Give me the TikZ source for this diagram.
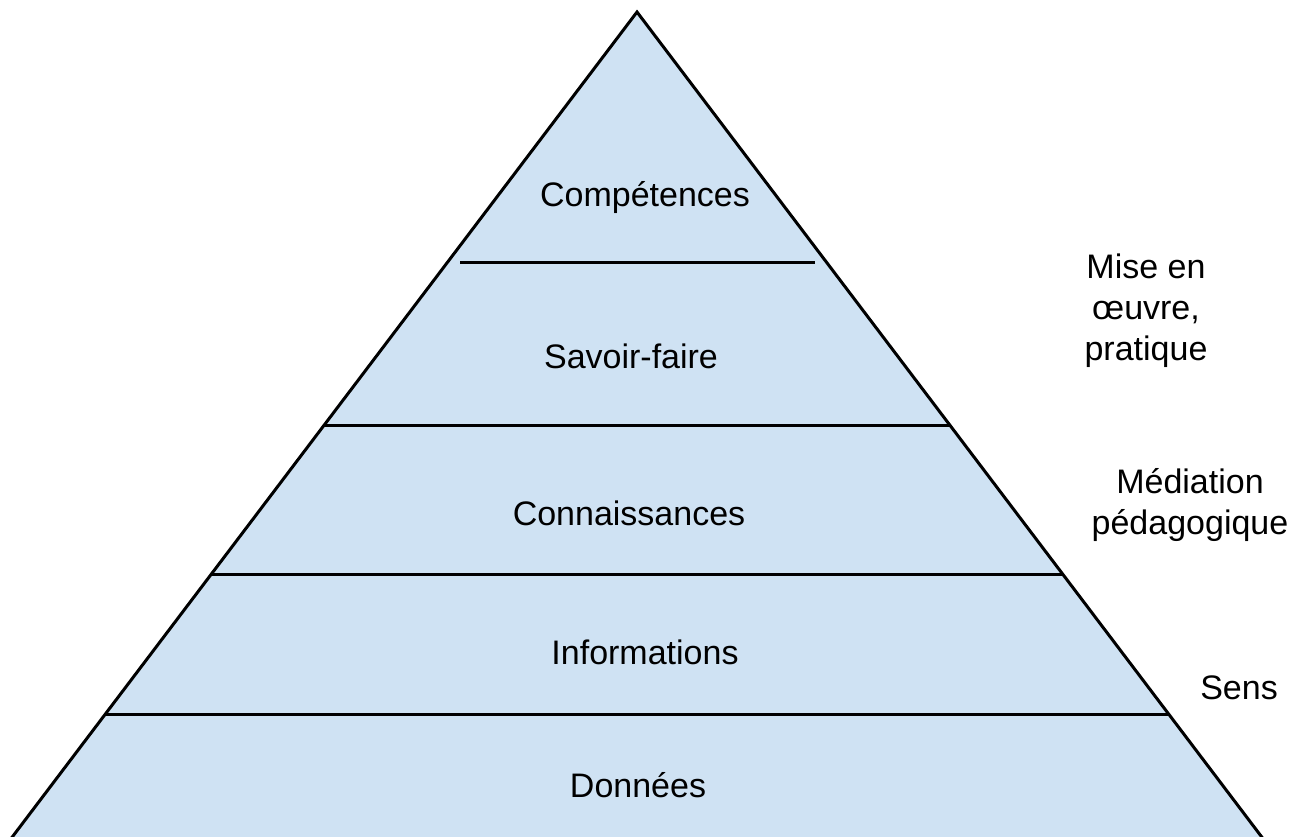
\documentclass[tikz,border=0pt]{standalone}
\usepackage{fontspec}
\setmainfont{Liberation Sans}
\definecolor{pyrfill}{HTML}{CFE2F3}
\begin{document}
\begin{tikzpicture}[x=1pt,y=-1pt,
  edge/.style={line width=3pt,draw=black},
  lvl/.style={font=\fontsize{34}{41}\selectfont,inner sep=0pt,anchor=center},
  side/.style={font=\fontsize{34}{41}\selectfont,inner sep=0pt,align=center,anchor=center}]
\useasboundingbox (0,0) rectangle (1293,836);
\coordinate (apex) at (637,12);
\fill[pyrfill] (apex) -- (1271,850) -- (3,850) -- cycle;
\draw[edge,line join=miter] (3,849.2) -- (apex) -- (1271,849.2);
\coordinate (c1a) at (460,262); \coordinate (c1b) at (815,262);
\coordinate (c2a) at (324,425); \coordinate (c2b) at (950,425);
\coordinate (c3a) at (212,574); \coordinate (c3b) at (1062,574);
\coordinate (c4a) at (106,714); \coordinate (c4b) at (1168,714);
\draw[edge] (c1a) -- (c1b);
\draw[edge] (c2a) -- (c2b);
\draw[edge] (c3a) -- (c3b);
\draw[edge] (c4a) -- (c4b);
\node[lvl] (comp) at (645,198) {Compétences};
\node[lvl] (sf) at (631,356) {Savoir-faire};
\node[lvl] (conn) at (629,513) {Connaissances};
\node[lvl] (info) at (645,652) {Informations};
\node[lvl] (don) at (638,785) {Données};
\node[side] (mise) at (1146,311) {Mise en\\œuvre,\\pratique};
\node[side] (med) at (1190,505) {Médiation\\pédagogique};
\node[side] (sens) at (1239,688) {Sens};
\end{tikzpicture}
\end{document}
